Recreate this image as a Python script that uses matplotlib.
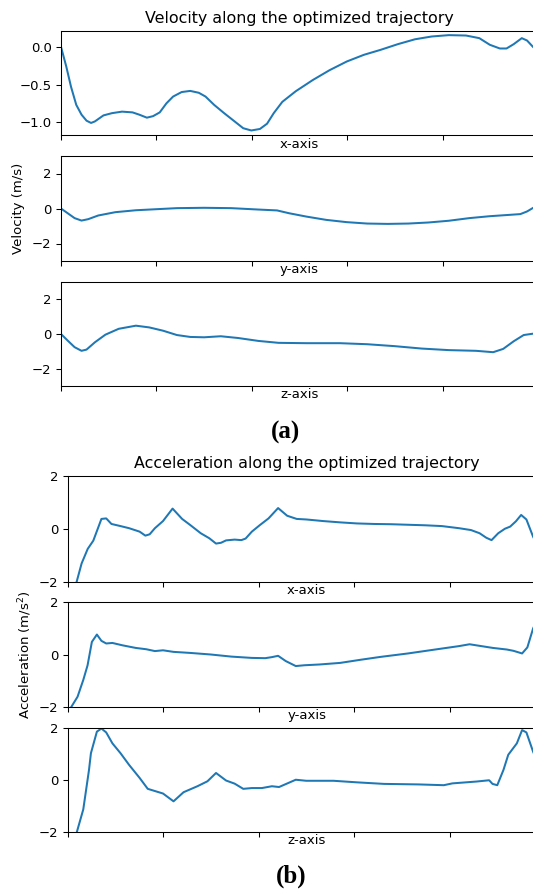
import matplotlib.pyplot as plt
import numpy as np

# --- Velocity data (time as % of trajectory) ---
vx_t = [0, 1.1, 2.1, 3.2, 4.3, 5.35, 6.3, 7.1, 8.9, 10.7, 12.8, 15.0, 16.4, 18.0, 19.3,
        20.7, 22.1, 23.5, 25.3, 27.1, 28.9, 30.3, 32.1, 34.2, 36.4, 38.2, 39.9, 41.7,
        43.2, 44.6, 46.4, 49.2, 52.8, 56.3, 59.9, 63.5, 67.0, 70.6, 74.2, 77.7, 81.3,
        84.9, 87.7, 89.9, 92.0, 93.4, 94.9, 96.6, 97.7, 99.0, 100]
vx = [0.0, -0.26, -0.53, -0.77, -0.90, -0.98, -1.01, -0.99, -0.91, -0.88, -0.86, -0.87,
      -0.90, -0.94, -0.92, -0.87, -0.75, -0.66, -0.60, -0.585, -0.61, -0.66, -0.77,
      -0.88, -0.99, -1.08, -1.11, -1.09, -1.02, -0.88, -0.73, -0.59, -0.44, -0.31,
      -0.195, -0.106, -0.04, 0.035, 0.10, 0.137, 0.155, 0.15, 0.115, 0.027, -0.022,
      -0.022, 0.035, 0.115, 0.084, -0.004, -0.05]

vy_t = [0, 1.4, 2.85, 4.3, 5.7, 7.8, 11.4, 15.7, 20.0, 24.3, 30.0, 35.7, 41.4, 45.3,
        47.8, 51.4, 55.6, 59.9, 64.2, 68.5, 72.8, 77.0, 81.3, 85.6, 89.9, 94.2, 96.3,
        97.7, 99.0, 100]
vy = [0.0, -0.27, -0.55, -0.69, -0.61, -0.40, -0.21, -0.10, -0.04, 0.02, 0.04, 0.02,
      -0.06, -0.11, -0.27, -0.46, -0.65, -0.78, -0.86, -0.88, -0.86, -0.80, -0.70,
      -0.55, -0.44, -0.36, -0.32, -0.17, 0.04, 0.1]

vz_t = [0, 1.4, 2.85, 4.3, 5.35, 7.1, 9.3, 12.1, 15.7, 18.5, 21.4, 24.3, 27.1, 30.0,
        33.5, 37.1, 41.4, 45.6, 51.4, 58.5, 64.2, 69.9, 75.6, 81.3, 87.0, 90.6, 92.7,
        94.9, 97.0, 99.0, 100]
vz = [0.0, -0.38, -0.76, -0.97, -0.90, -0.48, -0.04, 0.30, 0.48, 0.38, 0.19, -0.06,
      -0.17, -0.19, -0.13, -0.23, -0.40, -0.51, -0.53, -0.53, -0.59, -0.70, -0.84,
      -0.93, -0.97, -1.05, -0.86, -0.42, -0.06, 0.02, 0.0]

# --- Acceleration data ---
ax_t = [0, 2.85, 4.13, 5.3, 7.0, 8.0, 9.1, 11.0, 12.8, 15.0, 16.2, 17.1, 18.2, 19.9,
        21.9, 23.9, 25.6, 27.8, 29.6, 31.0, 32.05, 33.1, 34.9, 36.3, 37.2, 38.5, 40.2,
        42.0, 44.0, 45.9, 47.9, 49.9, 53.4, 57.0, 60.5, 64.1, 67.7, 71.2, 74.8, 78.3,
        81.9, 84.4, 86.2, 87.6, 88.7, 90.1, 91.5, 92.6, 93.8, 94.9, 96.0, 97.4, 100]
acc_x = [-3.2, -1.30, -0.75, -0.44, 0.38, 0.40, 0.19, 0.11, 0.03, -0.10, -0.25, -0.20,
         0.03, 0.30, 0.77, 0.38, 0.15, -0.16, -0.35, -0.55, -0.52, -0.43, -0.40, -0.42,
         -0.36, -0.10, 0.15, 0.40, 0.79, 0.50, 0.38, 0.36, 0.30, 0.25, 0.21, 0.19, 0.18,
         0.16, 0.14, 0.11, 0.03, -0.04, -0.16, -0.33, -0.42, -0.16, 0.01, 0.09, 0.29,
         0.53, 0.36, -0.29, -1.2]

ay_t = [0, 2.0, 3.2, 4.1, 5.0, 6.05, 7.0, 8.0, 9.3, 11.4, 14.2, 16.4, 18.2, 19.9, 22.1,
        25.6, 29.9, 34.2, 38.5, 41.3, 42.7, 44.0, 45.6, 47.7, 49.5, 52.7, 57.0, 61.3,
        65.5, 71.2, 76.9, 81.9, 84.1, 86.2, 89.0, 91.9, 93.3, 95.1, 96.2, 97.4, 100]
acc_y = [-2.2, -1.61, -0.97, -0.41, 0.48, 0.76, 0.52, 0.42, 0.44, 0.35, 0.25, 0.20,
         0.13, 0.16, 0.10, 0.06, 0.0, -0.08, -0.13, -0.14, -0.10, -0.05, -0.25, -0.44,
         -0.41, -0.38, -0.32, -0.20, -0.09, 0.04, 0.19, 0.32, 0.39, 0.33, 0.25, 0.19,
         0.14, 0.04, 0.27, 0.99, 2.0]

az_t = [0, 3.2, 4.4, 4.8, 6.05, 7.0, 8.0, 9.3, 11.0, 12.8, 15.0, 16.7, 19.9, 22.1, 24.2,
        27.1, 29.2, 31.0, 33.1, 34.9, 36.7, 38.5, 40.6, 42.7, 44.2, 47.7, 49.9, 55.6,
        60.5, 66.2, 73.4, 78.7, 80.5, 85.5, 88.2, 88.9, 89.9, 91.2, 92.2, 94.0, 95.1,
        96.0, 97.4, 100]
acc_z = [-3.2, -1.13, 0.39, 1.03, 1.86, 1.98, 1.83, 1.41, 1.03, 0.58, 0.08, -0.34, -0.52,
         -0.82, -0.47, -0.24, -0.05, 0.27, -0.02, -0.14, -0.34, -0.31, -0.31, -0.24,
         -0.27, 0.01, -0.03, -0.03, -0.09, -0.15, -0.17, -0.2, -0.13, -0.06, -0.01,
         -0.15, -0.2, 0.39, 0.97, 1.41, 1.92, 1.83, 1.09, 0.0]

axis_names = ['x-axis', 'y-axis', 'z-axis']

W, H = 533, 890
fig = plt.figure(figsize=(W / 100, H / 100), dpi=100)

FS = 9.5
plt.rcParams['font.size'] = FS
plt.rcParams['axes.linewidth'] = 0.76
plt.rcParams['xtick.major.size'] = 3.3
plt.rcParams['ytick.major.size'] = 3.3
plt.rcParams['xtick.major.width'] = 0.76
plt.rcParams['ytick.major.width'] = 0.76


def px_axes(x0, y0, x1, y1):
    # place axes by pixel box (left, top, right, bottom)
    return fig.add_axes([x0 / W, 1 - y1 / H, (x1 - x0) / W, (y1 - y0) / H])


def style(ax, name):
    ax.set_xlim(0, 100)
    ax.set_xticks(np.arange(0, 101, 20))
    ax.tick_params(labelbottom=False, labelsize=FS)
    ax.set_xlabel(name, fontsize=FS, labelpad=-1.5)


# --- (a) velocity ---
boxes_a = [(31, 135), (156, 261), (282, 386)]
vel = [(vx_t, vx), (vy_t, vy), (vz_t, vz)]
axes_a = []
for (top, bot), (t, v), name in zip(boxes_a, vel, axis_names):
    ax = px_axes(61, top, 538, bot)
    ax.plot(t, v, color='#1f77b4', linewidth=1.45)
    style(ax, name)
    axes_a.append(ax)

axes_a[0].set_ylim(-1.17, 0.21)
axes_a[0].set_yticks([-1.0, -0.5, 0.0])
for ax in axes_a[1:]:
    ax.set_ylim(-3, 3)
    ax.set_yticks([-2, 0, 2])
axes_a[0].set_title('Velocity along the optimized trajectory', fontsize=11.4, pad=5.5)
fig.text(18.5 / W, 1 - 208 / H, 'Velocity (m/s)', rotation=90, ha='center', va='center',
         fontsize=FS)
fig.text(286 / W, 1 - 432 / H, '(a)', ha='center', va='center', fontsize=18,
         fontweight='bold', family='Liberation Serif')

# --- (b) acceleration ---
boxes_b = [(476, 582), (602, 707), (728, 832)]
acc = [(ax_t, acc_x), (ay_t, acc_y), (az_t, acc_z)]
axes_b = []
for (top, bot), (t, a), name in zip(boxes_b, acc, axis_names):
    ax = px_axes(68, top, 545.5, bot)
    ax.plot(t, a, color='#1f77b4', linewidth=1.45)
    style(ax, name)
    ax.set_ylim(-2, 2)
    ax.set_yticks([-2, 0, 2])
    axes_b.append(ax)

axes_b[0].set_title('Acceleration along the optimized trajectory', fontsize=11.4, pad=5.5)
fig.text(25 / W, 1 - 655 / H, 'Acceleration (m/s$^2$)', rotation=90, ha='center',
         va='center', fontsize=FS)
fig.text(291 / W, 1 - 876 / H, '(b)', ha='center', va='center', fontsize=18,
         fontweight='bold', family='Liberation Serif')

fig.savefig('out.png', dpi=100)
